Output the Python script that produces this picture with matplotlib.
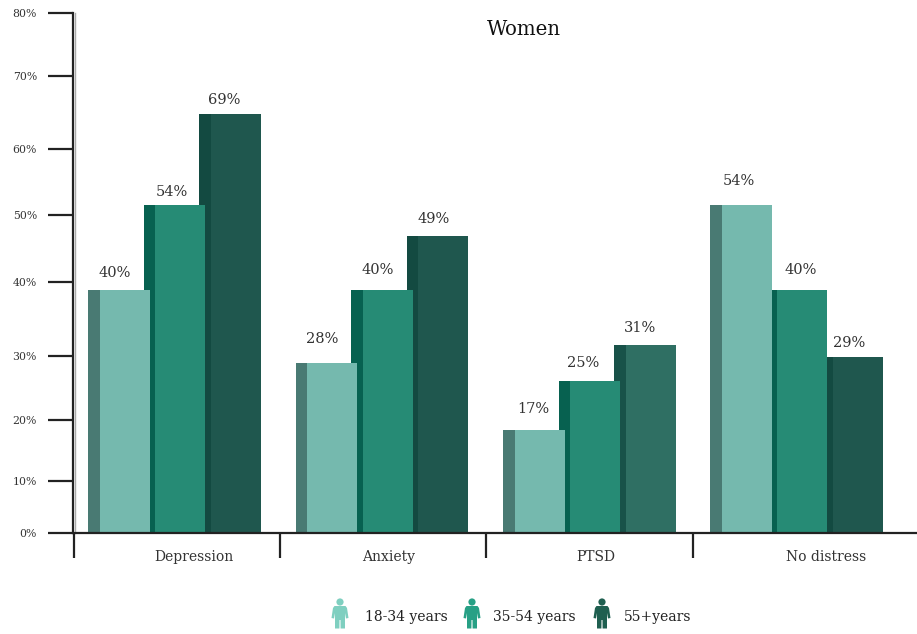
import numpy as np
import matplotlib.pyplot as plt
from matplotlib.patches import Circle, Polygon

plt.rcParams['font.family'] = ['DejaVu Serif']

categories = ['Depression', 'Anxiety', 'PTSD', 'No distress']
ages = ['18-34 years', '35-54 years', '55+years']
young = [40, 28, 17, 54]
middle = [54, 40, 25, 40]
old = [69, 49, 31, 29]

tick_labels = ['0%', '10%', '20%', '30%', '40%', '50%', '60%', '70%', '80%']
# the axis marks are spaced by hand, they do not follow the bar scale
tick_places = [0, 8.6, 18.6, 29.2, 41.4, 52.4, 63.3, 75.3, 85.67]

main_colors = ['#75b9ae', '#268b75', '#1f574e']
side_colors = ['#497a73', '#076150', '#134a41']
icon_colors = ['#7fcfc0', '#27a085', '#1f5f50']

fig = plt.figure(figsize=(9.17, 6.34), dpi=100)
W, H = 917, 634
ax = fig.add_axes([73 / W, 1 - 533 / H, (W - 73) / W, 520 / H])
ax.set_xlim(73, 917)
ax.set_ylim(0, 85.67)

group_left = [88, 295.5, 503, 710]
step = 55.5
width = 61.5
side = 11.5

# small tweaks of where each value label sits (x shift, gap above bar)
label_dx = [[-4, -2, -6], [-4, -4, -4], [0, -6, -5], [-2, 4, -3]]
label_gap = [[1.6, 1.1, 1.2], [2.8, 2.2, 1.6], [2.3, 1.8, 1.7], [2.9, 2.2, 1.2]]

series = [young, middle, old]
for g in range(len(categories)):
    for s in range(len(series)):
        v = series[s][g]
        x = group_left[g] + s * step
        main = main_colors[s]
        shade = side_colors[s]
        # the PTSD 55+ bar is a lighter green
        if categories[g] == 'PTSD' and s == 2:
            main = '#2f6f63'
            shade = '#185249'
        # younger bars sit in front of the older ones
        ax.bar(x, v, width=side, align='edge', color=shade, zorder=10 - s)
        ax.bar(x + side, v, width=width - side, align='edge', color=main, zorder=10 - s)
        ax.text(x + width / 2 + label_dx[g][s], v + label_gap[g][s], str(v) + '%',
                ha='center', va='bottom', fontsize=10.5, color='#333333', zorder=20)

for name in ['top', 'right']:
    ax.spines[name].set_visible(False)
ax.spines['left'].set_color('#222222')
ax.spines['left'].set_linewidth(1.6)
ax.spines['bottom'].set_color('#222222')
ax.spines['bottom'].set_linewidth(1.6)
ax.spines['bottom'].set_zorder(30)

ax.set_yticks(tick_places)
ax.set_yticklabels(tick_labels, fontsize=7.8, color='#333333')
ax.tick_params(axis='y', length=18, width=1.6, color='#222222', pad=8)
ax.yaxis.get_ticklines()[0].set_color('#999999')

# grey edge next to the vertical axis
ax.plot([74.8, 74.8], [0, 85.67], color='#aaaaaa', lw=1, zorder=1, clip_on=False)

ax.set_xticks([194, 389, 596, 826])
ax.set_xticklabels(categories, fontsize=10, color='#333333')
ax.tick_params(axis='x', which='major', length=0, pad=12)
ax.set_xticks([73.5, 280, 486, 693], minor=True)
ax.tick_params(axis='x', which='minor', length=18, width=1.6, color='#222222')

ax.text(523.5, 83, 'Women', ha='center', va='center', fontsize=14.2, color='#111111')

# legend drawn on a pixel canvas
leg = fig.add_axes([0, 0, 1, 1], facecolor='none')
leg.set_xlim(0, W)
leg.set_ylim(H, 0)
leg.axis('off')


def person(cx, color):
    leg.add_patch(Circle((cx, 602), 3.6, color=color, lw=0))
    body = [(cx - 5.5, 606), (cx + 5.5, 606), (cx + 7, 608), (cx + 8.5, 618), (cx + 6, 618.5),
            (cx + 5, 613), (cx + 5, 628.5), (cx + 0.6, 628.5), (cx + 0.5, 620), (cx - 0.5, 620),
            (cx - 0.6, 628.5), (cx - 5, 628.5), (cx - 5, 613), (cx - 6, 618.5), (cx - 8.5, 618),
            (cx - 7, 608)]
    leg.add_patch(Polygon(body, closed=True, color=color, lw=0))


icon_x = [340, 472, 602]
text_x = [365, 493, 624]
for i in range(len(ages)):
    person(icon_x[i], icon_colors[i])
    leg.text(text_x[i], 617, ages[i], ha='left', va='center', fontsize=10, color='#222222')

fig.savefig('out.png', dpi=100)
